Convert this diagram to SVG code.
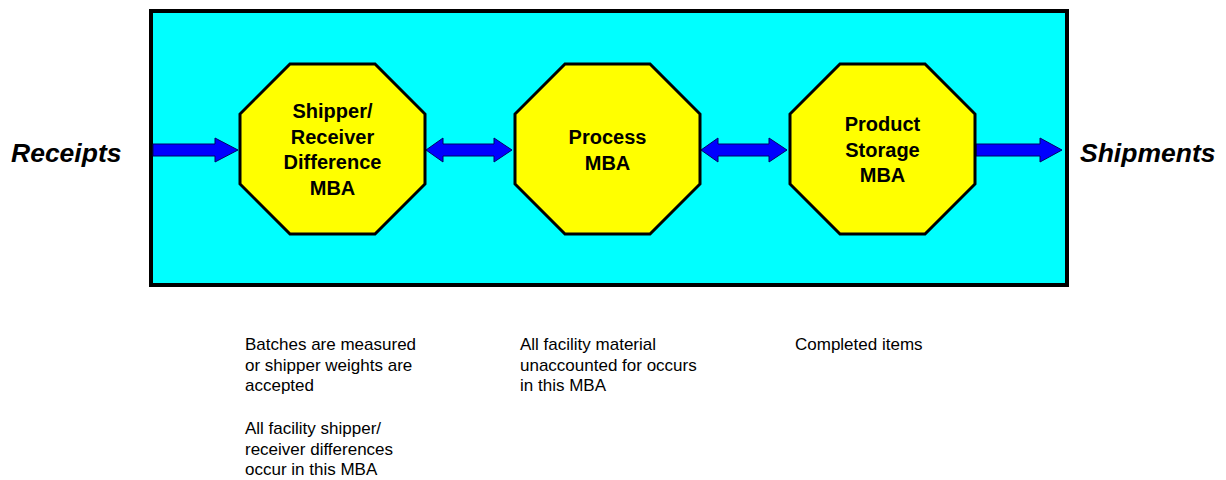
<svg xmlns="http://www.w3.org/2000/svg" width="1226" height="480" viewBox="0 0 1226 480">
<style>
.mba{fill:#FFFF00;stroke:#000;stroke-width:3;stroke-linejoin:miter}
.lbl{font-family:"Liberation Sans",Arial,sans-serif;font-weight:bold;font-size:20px;fill:#000;text-anchor:middle}
.side{font-family:"Liberation Sans",Arial,sans-serif;font-weight:bold;font-style:italic;font-size:26.5px;fill:#000}
.note{font-family:"Liberation Sans",Arial,sans-serif;font-size:17px;fill:#000}
.arr{fill:#0000FF;stroke:#000066;stroke-width:1}
</style>
<rect width="1226" height="480" fill="#fff"/>
<g id="boundary">
<rect x="151" y="11" width="916" height="274" fill="#00FFFF" stroke="#000" stroke-width="4"/>
</g>
<g id="connectors">
<polygon class="arr" points="153,144 215,144 215,138 238,150 215,162 215,156 153,156"/>
<polygon class="arr" points="426,150 443,138 443,144 494,144 494,138 512,150 494,162 494,156 443,156 443,162"/>
<polygon class="arr" points="701,150 718,138 718,144 769,144 769,138 787,150 769,162 769,156 718,156 718,162"/>
<polygon class="arr" points="976,144 1040,144 1040,138 1062,150 1040,162 1040,156 976,156"/>
</g>
<g id="node-shipper">
<polygon class="mba" points="290,64 375,64 425,114 425,184 375,234 290,234 240,184 240,114"/>
<text class="lbl" x="332.5" y="118">Shipper/</text>
<text class="lbl" x="332.5" y="143.5">Receiver</text>
<text class="lbl" x="332.5" y="169">Difference</text>
<text class="lbl" x="332.5" y="194.5">MBA</text>
</g>
<g id="node-process">
<polygon class="mba" points="565,64 650,64 700,114 700,184 650,234 565,234 515,184 515,114"/>
<text class="lbl" x="607.5" y="144">Process</text>
<text class="lbl" x="607.5" y="169.5">MBA</text>
</g>
<g id="node-storage">
<polygon class="mba" points="840,64 925,64 975,114 975,184 925,234 840,234 790,184 790,114"/>
<text class="lbl" x="882.5" y="131">Product</text>
<text class="lbl" x="882.5" y="156.5">Storage</text>
<text class="lbl" x="882.5" y="182">MBA</text>
</g>
<g id="receipts"><text class="side" x="11" y="162">Receipts</text></g>
<g id="shipments"><text class="side" x="1080" y="162">Shipments</text></g>
<g id="notes">
<text class="note" x="245" y="350">Batches are measured</text>
<text class="note" x="245" y="370.7">or shipper weights are</text>
<text class="note" x="245" y="391.4">accepted</text>
<text class="note" x="245" y="434">All facility shipper/</text>
<text class="note" x="245" y="454.7">receiver differences</text>
<text class="note" x="245" y="475.4">occur in this MBA</text>
<text class="note" x="520" y="350">All facility material</text>
<text class="note" x="520" y="370.7">unaccounted for occurs</text>
<text class="note" x="520" y="391.4">in this MBA</text>
<text class="note" x="795" y="350">Completed items</text>
</g>
</svg>
